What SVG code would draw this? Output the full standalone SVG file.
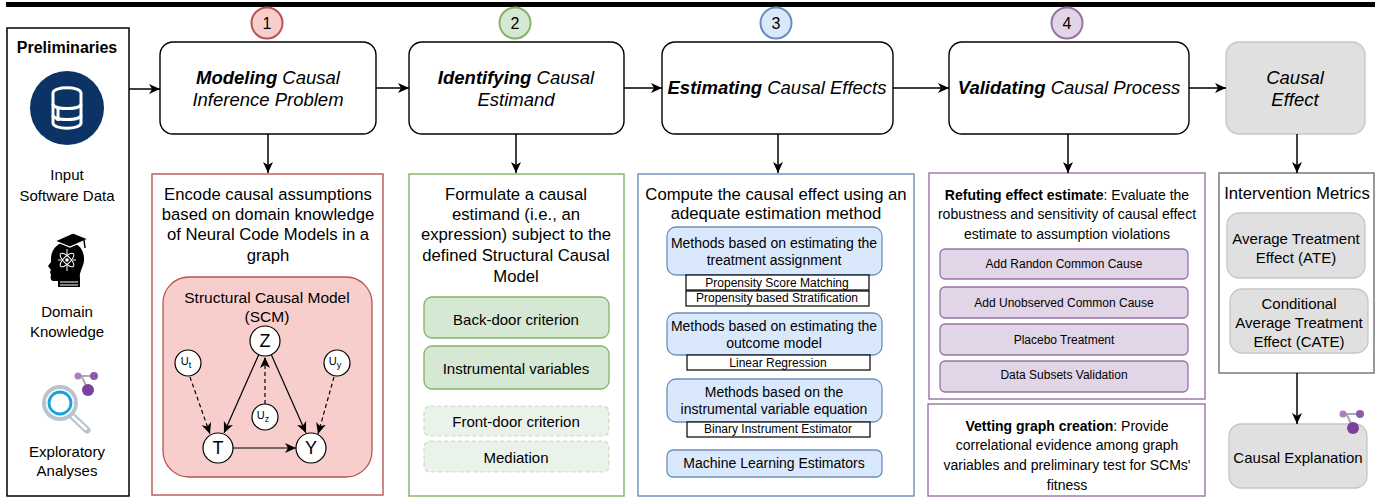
<svg xmlns="http://www.w3.org/2000/svg" width="1391" height="498" viewBox="0 0 1391 498">
<style>
text{font-family:"Liberation Sans",Arial,sans-serif;fill:#000;dominant-baseline:central;text-anchor:middle}
.step{fill:#fff;stroke:#000;stroke-width:1.4}
.ttl{font-size:18.5px;font-style:italic}
.b{font-weight:bold}
.num{font-size:16px}
.t17{font-size:16.7px}
.t15{font-size:15px}
.t14{font-size:14px}
.t12{font-size:12px}
.flow{stroke:#000;stroke-width:1.5;fill:none}
.scm{stroke:#000;stroke-width:1.2;fill:none}
.dash{stroke-dasharray:4 3}
.nd{fill:#fff;stroke:#000;stroke-width:1.2}
.grn{fill:#d5e8d4;stroke:#82b366;stroke-width:1.3}
.grnl{fill:#d5e8d4;fill-opacity:.5;stroke:#82b366;stroke-opacity:.4;stroke-width:1.2;stroke-dasharray:4 3}
.blu{fill:#dae8fc;stroke:#6c8ebf;stroke-width:1.3}
.pur{fill:#e1d5e7;stroke:#9673a6;stroke-width:1.3}
.wb{fill:#fff;stroke:#000;stroke-width:1.2}
.gry{fill:#e0e0e0;stroke:#c6c6c6;stroke-width:1.3}
</style>
<defs>
<marker id="arr" markerUnits="userSpaceOnUse" markerWidth="14" markerHeight="12" refX="11" refY="6" orient="auto">
<path d="M0,1 L11,6 L0,11 L3,6 z" fill="#000"/>
</marker>
<marker id="arrS" markerUnits="userSpaceOnUse" markerWidth="14" markerHeight="12" refX="11" refY="6" orient="auto">
<path d="M0,1 L11,6 L0,11 L3,6 z" fill="#000"/>
</marker>
</defs>

<!-- top bar -->
<rect x="6" y="2" width="1369" height="5" fill="#000"/>

<!-- Preliminaries panel -->
<g id="preliminaries">
<rect x="7" y="28" width="122" height="468" fill="#fff" stroke="#000" stroke-width="1.5"/>
<text x="67" y="47" font-size="16" class="b">Preliminaries</text>
<g id="icon-db">
<circle cx="67" cy="108" r="37" fill="#0b3365"/>
<g fill="none" stroke="#fff" stroke-width="3" stroke-linejoin="round">
<path d="M53,93 C53,86 81,86 81,93 L81,123 C81,130 53,130 53,123 Z"/>
<path d="M53,104 C53,110 81,110 81,104"/>
<path d="M53,115 C53,121 81,121 81,115"/>
<path d="M58,107 L58,121"/>
</g>
</g>
<text x="67" y="174" class="t15">Input</text>
<text x="67" y="195" class="t15">Software Data</text>
<g id="icon-head">
<path d="M66,242 C77,241 85,249 84,261 C83,268 79,272 80,278 L80,287 L58,287 L58,281 L53,281 C51,281 50,278 51,275 L50,272 L51,270 L48,266 L51,262 C50,250 57,243 66,242 Z" fill="#000"/>
<path d="M55,241 L73,233 L88,239 L70,247 Z" fill="#000" stroke="#fff" stroke-width="1.2"/>
<path d="M84,240 L85,248" stroke="#000" stroke-width="1.5"/>
<g fill="none" stroke="#fff" stroke-width="1">
<ellipse cx="67" cy="260" rx="9" ry="3.5" transform="rotate(45 67 260)"/>
<ellipse cx="67" cy="260" rx="9" ry="3.5" transform="rotate(-45 67 260)"/>
<path d="M67,249 L67,255 M67,265 L67,271 M58,260 L61,260 M73,260 L76,260"/>
<path d="M60,282 L78,282 M60,285 L78,285"/>
</g>
<circle cx="67" cy="260" r="1.8" fill="#fff"/>
</g>
<text x="67" y="311" class="t15">Domain</text>
<text x="67" y="331" class="t15">Knowledge</text>
<g id="icon-explore">
<path d="M70,414 L87,430" stroke="#b9c4cb" stroke-width="7" stroke-linecap="round"/>
<path d="M71,415 L86,429" stroke="#fff" stroke-width="2.5" stroke-linecap="round"/>
<circle cx="60" cy="403" r="16" fill="#fff" stroke="#b9c4cb" stroke-width="4"/>
<circle cx="60" cy="403" r="11" fill="#fff" stroke="#1ba1e2" stroke-width="2.8"/>
<path d="M78,376 L94,376 M82,377 L88,390" stroke="#aaa" stroke-width="2"/>
<circle cx="78" cy="376" r="3.5" fill="#a680bd"/>
<circle cx="94" cy="376" r="4" fill="#8d5aa8"/>
<circle cx="88" cy="390" r="6" fill="#7b409d"/>
</g>
<text x="67" y="451" class="t15">Exploratory</text>
<text x="67" y="470" class="t15">Analyses</text>
</g>

<!-- Step 1 -->
<g id="step1">
<rect class="step" x="160" y="42" width="216" height="92" rx="13"/>
<text x="268" y="77" class="ttl"><tspan class="b">Modeling</tspan> Causal</text>
<text x="268" y="99" class="ttl">Inference Problem</text>
<circle cx="267" cy="23" r="15.5" fill="#f8cecc" stroke="#b85450" stroke-width="2"/>
<text x="267" y="23" class="num">1</text>
</g>
<!-- Step 2 -->
<g id="step2">
<rect class="step" x="409" y="42" width="215" height="92" rx="13"/>
<text x="516" y="77" class="ttl"><tspan class="b">Identifying</tspan> Causal</text>
<text x="516" y="99" class="ttl">Estimand</text>
<circle cx="515" cy="23" r="15.5" fill="#d5e8d4" stroke="#82b366" stroke-width="2"/>
<text x="515" y="23" class="num">2</text>
</g>
<!-- Step 3 -->
<g id="step3">
<rect class="step" x="662" y="42" width="231" height="92" rx="13"/>
<text x="777" y="87" class="ttl"><tspan class="b">Estimating</tspan> Causal Effects</text>
<circle cx="776" cy="23" r="15.5" fill="#dae8fc" stroke="#6c8ebf" stroke-width="2"/>
<text x="776" y="23" class="num">3</text>
</g>
<!-- Step 4 -->
<g id="step4">
<rect class="step" x="949" y="42" width="240" height="92" rx="13"/>
<text x="1069" y="87" class="ttl"><tspan class="b">Validating</tspan> Causal Process</text>
<circle cx="1067" cy="23" r="15.5" fill="#e1d5e7" stroke="#9673a6" stroke-width="2"/>
<text x="1067" y="23" class="num">4</text>
</g>
<!-- Causal Effect -->
<g id="causal-effect">
<rect x="1226" y="42" width="139" height="92" rx="13" fill="#e0e0e0" stroke="#c6c6c6" stroke-width="1.3"/>
<text x="1295" y="77" class="ttl" fill="#222">Causal</text>
<text x="1295" y="99" class="ttl" fill="#222">Effect</text>
</g>

<!-- Box 1 -->
<g id="box-modeling">
<rect x="152" y="174" width="231" height="321" fill="#fff" stroke="#b85450" stroke-width="1.4"/>
<text x="268" y="194" class="t17">Encode causal assumptions</text>
<text x="268" y="214" class="t17">based on domain knowledge</text>
<text x="268" y="234" class="t17">of Neural Code Models in a</text>
<text x="268" y="255" class="t17">graph</text>
<rect x="163" y="277" width="209" height="200" rx="26" fill="#f8cecc" stroke="#b85450" stroke-width="1.3"/>
<text x="267" y="297" font-size="15.5">Structural Causal Model</text>
<text x="267" y="316" font-size="15.5">(SCM)</text>
</g>
<g id="scm-edges">
<path class="scm" d="M259,354 L224,433" marker-end="url(#arrS)"/>
<path class="scm" d="M271,354 L306,433" marker-end="url(#arrS)"/>
<path class="scm" d="M233,448 L296,448" marker-end="url(#arrS)"/>
<path class="scm dash" d="M190,377 L210,434" marker-end="url(#arrS)"/>
<path class="scm dash" d="M265,404 L265,357" marker-end="url(#arrS)"/>
<path class="scm dash" d="M334,377 L318,434" marker-end="url(#arrS)"/>
</g>
<g id="scm-Z"><circle class="nd" cx="265" cy="341" r="15"/><text x="265" y="341" font-size="18">Z</text></g>
<g id="scm-T"><circle class="nd" cx="218" cy="448" r="15"/><text x="218" y="448" font-size="18">T</text></g>
<g id="scm-Y"><circle class="nd" cx="311" cy="448" r="15"/><text x="311" y="448" font-size="18">Y</text></g>
<g id="scm-Ut"><circle class="nd" cx="188" cy="363" r="13"/><text x="186" y="361" font-size="11">U<tspan font-size="9" dy="4">t</tspan></text></g>
<g id="scm-Uz"><circle class="nd" cx="265" cy="417" r="13"/><text x="263" y="415" font-size="11">U<tspan font-size="9" dy="4">z</tspan></text></g>
<g id="scm-Uy"><circle class="nd" cx="337" cy="363" r="13"/><text x="335" y="361" font-size="11">U<tspan font-size="9" dy="4">y</tspan></text></g>

<!-- Box 2 -->
<g id="box-identifying">
<rect x="409" y="174" width="215" height="322" fill="#fff" stroke="#82b366" stroke-width="1.4"/>
<text x="516" y="194" class="t17">Formulate a causal</text>
<text x="516" y="214" class="t17">estimand (i.e., an</text>
<text x="516" y="234" class="t17">expression) subject to the</text>
<text x="516" y="255" class="t17">defined Structural Causal</text>
<text x="516" y="276" class="t17">Model</text>
</g>
<g id="backdoor"><rect class="grn" x="424" y="297" width="185" height="41" rx="8"/><text x="516" y="319" class="t15">Back-door criterion</text></g>
<g id="instrumental"><rect class="grn" x="424" y="346" width="185" height="43" rx="8"/><text x="516" y="368" class="t15">Instrumental variables</text></g>
<g id="frontdoor"><rect class="grnl" x="424" y="406" width="185" height="30" rx="6"/><text x="516" y="421" class="t15">Front-door criterion</text></g>
<g id="mediation"><rect class="grnl" x="424" y="441" width="185" height="31" rx="6"/><text x="516" y="457" class="t15">Mediation</text></g>

<!-- Box 3 -->
<g id="box-estimating">
<rect x="638" y="174" width="276" height="322" fill="#fff" stroke="#6c8ebf" stroke-width="1.4"/>
<text x="776" y="194" class="t17">Compute the causal effect using an</text>
<text x="776" y="213" class="t17">adequate estimation method</text>
</g>
<g id="m-treatment"><rect class="blu" x="667" y="227" width="215" height="48" rx="9"/><text x="774" y="243" class="t14">Methods based on estimating the</text><text x="774" y="260" class="t14">treatment assignment</text></g>
<g id="psm"><rect class="wb" x="686" y="275" width="183" height="15"/><text x="777" y="283" class="t12">Propensity Score Matching</text></g>
<g id="psstrat"><rect class="wb" x="686" y="291" width="183" height="15"/><text x="777" y="298" class="t12">Propensity based Stratification</text></g>
<g id="m-outcome"><rect class="blu" x="667" y="313" width="215" height="42" rx="9"/><text x="774" y="326" class="t14">Methods based on estimating the</text><text x="774" y="343" class="t14">outcome model</text></g>
<g id="linreg"><rect class="wb" x="687" y="355" width="183" height="15"/><text x="778" y="363" class="t12">Linear Regression</text></g>
<g id="m-iv"><rect class="blu" x="667" y="379" width="215" height="43" rx="9"/><text x="774" y="392" class="t14">Methods based on the</text><text x="774" y="409" class="t14">instrumental variable equation</text></g>
<g id="binary"><rect class="wb" x="687" y="422" width="183" height="15"/><text x="778" y="429" class="t12">Binary Instrument Estimator</text></g>
<g id="ml"><rect class="blu" x="667" y="450" width="215" height="27" rx="6"/><text x="774" y="463" class="t14">Machine Learning Estimators</text></g>

<!-- Box 4 -->
<g id="box-refuting">
<rect x="929" y="173" width="276" height="226" fill="#fff" stroke="#9673a6" stroke-width="1.4"/>
<text x="1067" y="195" class="t14"><tspan class="b">Refuting effect estimate</tspan>: Evaluate the</text>
<text x="1067" y="214" class="t14">robustness and sensitivity of causal effect</text>
<text x="1067" y="234" class="t14">estimate to assumption violations</text>
</g>
<g id="r1"><rect class="pur" x="940" y="249" width="248" height="30" rx="5"/><text x="1064" y="264" class="t12">Add Randon Common Cause</text></g>
<g id="r2"><rect class="pur" x="940" y="287" width="248" height="31" rx="5"/><text x="1064" y="303" class="t12">Add Unobserved Common Cause</text></g>
<g id="r3"><rect class="pur" x="940" y="324" width="248" height="31" rx="5"/><text x="1064" y="340" class="t12">Placebo Treatment</text></g>
<g id="r4"><rect class="pur" x="940" y="361" width="248" height="31" rx="5"/><text x="1064" y="375" class="t12">Data Subsets Validation</text></g>
<g id="box-vetting">
<rect x="928" y="404" width="277" height="92" fill="#fff" stroke="#9673a6" stroke-width="1.4"/>
<text x="1067" y="426" class="t14"><tspan class="b">Vetting graph creation</tspan>: Provide</text>
<text x="1067" y="445" class="t14">correlational evidence among graph</text>
<text x="1067" y="465" class="t14">variables and preliminary test for SCMs'</text>
<text x="1067" y="485" class="t14">fitness</text>
</g>

<!-- Right column -->
<g id="intervention-metrics">
<rect x="1219" y="173" width="155" height="200" fill="#fff" stroke="#6e6e6e" stroke-width="1.4"/>
<text x="1297" y="193" class="t17" fill="#555">Intervention Metrics</text>
</g>
<g id="ate"><rect class="gry" x="1227" y="213" width="138" height="65" rx="12"/><text x="1296" y="238" class="t15">Average Treatment</text><text x="1296" y="257" class="t15">Effect (ATE)</text></g>
<g id="cate"><rect class="gry" x="1230" y="289" width="138" height="64" rx="12"/><text x="1299" y="303" class="t15">Conditional</text><text x="1299" y="322" class="t15">Average Treatment</text><text x="1299" y="341" class="t15">Effect (CATE)</text></g>
<g id="causal-explanation">
<rect class="gry" x="1229" y="424" width="138" height="64" rx="12"/>
<text x="1298" y="457" class="t15">Causal Explanation</text>
<path d="M1343,414 L1360,414 M1347,415 L1353,428" stroke="#aaa" stroke-width="2"/>
<circle cx="1343" cy="414" r="3.5" fill="#a680bd"/>
<circle cx="1360" cy="414" r="4" fill="#8d5aa8"/>
<circle cx="1353" cy="428" r="6" fill="#7b409d"/>
</g>

<!-- Connectors -->
<g id="connectors">
<path class="flow" d="M129,89 L160,89" marker-end="url(#arr)"/>
<path class="flow" d="M376,88 L409,88" marker-end="url(#arr)"/>
<path class="flow" d="M624,88 L662,88" marker-end="url(#arr)"/>
<path class="flow" d="M893,88 L949,88" marker-end="url(#arr)"/>
<path class="flow" d="M1189,88 L1226,88" marker-end="url(#arr)"/>
<path class="flow" d="M268,134 L268,173" marker-end="url(#arr)"/>
<path class="flow" d="M516,134 L516,173" marker-end="url(#arr)"/>
<path class="flow" d="M778,134 L778,173" marker-end="url(#arr)"/>
<path class="flow" d="M1068,134 L1068,173" marker-end="url(#arr)"/>
<path class="flow" d="M1297,134 L1297,173" marker-end="url(#arr)"/>
<path class="flow" d="M1297,373 L1297,424" marker-end="url(#arr)"/>
</g>
</svg>
